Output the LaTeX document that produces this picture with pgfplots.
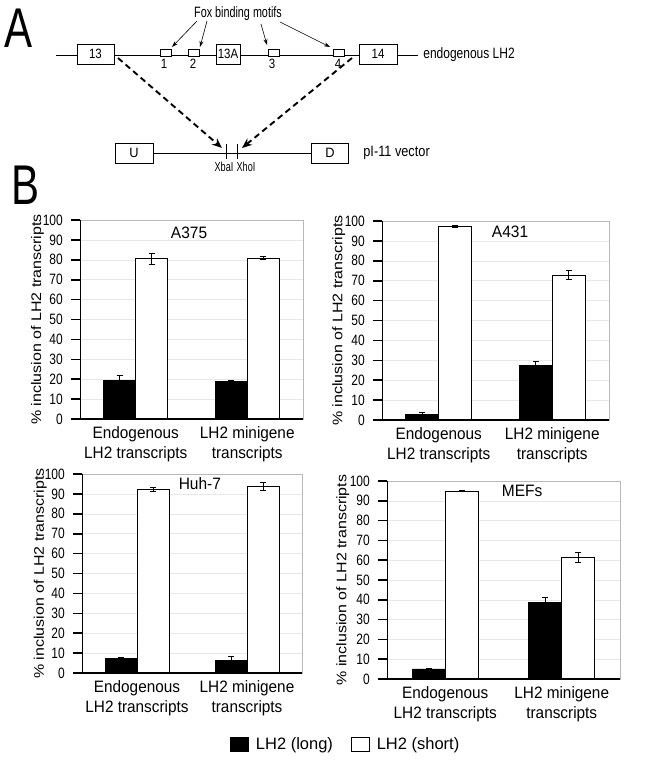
\documentclass[border=0pt]{standalone}
\usepackage{fontspec}
\setmainfont{Liberation Sans}
\usepackage{pgfplots}
\pgfplotsset{compat=1.18}
\usepackage{pgfplotstable}
\usetikzlibrary{arrows.meta}

\newcommand\chartfont{\fontsize{16.5}{20}\selectfont}
\newcommand\tickfont{\fontsize{15}{17}\selectfont}
\newcommand\diafont{\fontsize{15}{17}\selectfont}
\newcommand\boxfont{\fontsize{13.5}{15}\selectfont}

% A375
\pgfplotstableread{
x y e
0 19.2 2.7
1 18.7 0.8
}\AL
\pgfplotstableread{
x y e
0 80.6 2.7
1 80.9 0.7
}\AS
% A431
\pgfplotstableread{
x y e
0 2.9 1.0
1 27.6 1.7
}\BL
\pgfplotstableread{
x y e
0 97.4 0.6
1 72.9 2.3
}\BS
% Huh-7
\pgfplotstableread{
x y e
0 7.4 0.7
1 6.2 2.0
}\CL
\pgfplotstableread{
x y e
0 92.3 1.2
1 93.6 2.0
}\CS
% MEFs
\pgfplotstableread{
x y e
0 5.1 0.5
1 38.5 2.8
}\DL
\pgfplotstableread{
x y e
0 95.0 0.3
1 61.3 2.5
}\DS

\pgfplotsset{
  panel/.style={
    scale only axis, anchor=south west,
    ybar=0pt, bar width=#1,
    xmin=-0.5, xmax=1.5, ymin=0, ymax=100,
    xtick={0,1},
    xticklabels={{Endogenous\\LH2 transcripts},{LH2 minigene\\transcripts}},
    xticklabel style={align=center, font=\chartfont, xscale=0.93, yshift=5pt},
    ytick={0,10,...,100},
    ymajorgrids, grid style={gray!18, line width=0.6pt},
    axis line style={gray!55, line width=0.8pt},
    tick align=outside, major tick length=9pt,
    xtick style={draw=none},
    ytick style={black, line width=1.6pt},
    ytick pos=left, xtick pos=bottom,
    yticklabel style={font=\tickfont, xscale=0.8, inner sep=1pt, xshift=-9pt},
    ylabel={\% inclusion of LH2 transcripts},
    ylabel style={font=\fontsize{16}{18}\selectfont,
      at={(axis description cs:-0.19,0.5)}, anchor=center, yscale=0.87},
    /pgf/number format/assume math mode=true,
    error bars/y dir=both, error bars/y explicit,
    error bars/error bar style={black, line width=0.6pt},
    error bars/error mark options={rotate=90, black, mark size=3pt, line width=0.6pt},
  },
  longbar/.style={fill=black, draw=black, line width=0.8pt,
    legend image code/.code={\draw[fill=black, draw=black] (0pt,-7pt) rectangle (18pt,7pt);}},
  shortbar/.style={fill=white, draw=black, line width=0.8pt,
    legend image code/.code={\draw[fill=white, draw=black, line width=0.8pt] (0pt,-7pt) rectangle (18pt,7pt);}},
}

\begin{document}
\begin{tikzpicture}
\path (0pt,0pt) rectangle (658pt,-762pt);

% ---------- Panel A diagram ----------
\begin{scope}[x=1pt,y=-1pt, line width=0.9pt]
\node[font=\fontsize{56}{56}\selectfont, xscale=0.75, inner sep=0pt] at (19,28) {A};
\node[font=\fontsize{56}{56}\selectfont, xscale=0.75, inner sep=0pt] at (26,185) {B};
\draw (56,55.7) -- (418,55.7);
\draw[fill=white] (77,44) rectangle (114,64);
\draw[fill=white] (216,44) rectangle (240,64);
\draw[fill=white] (359,44) rectangle (397,64);
\draw[fill=white] (160,49) rectangle (171,56);
\draw[fill=white] (188,49) rectangle (199,56);
\draw[fill=white] (268,49) rectangle (279,56);
\draw[fill=white] (333,49) rectangle (344,56);
\node[font=\boxfont, xscale=0.85] at (95.5,54) {13};
\node[font=\boxfont, xscale=0.85] at (228,54) {13A};
\node[font=\boxfont, xscale=0.85] at (378,54) {14};
\node[font=\boxfont, xscale=0.85] at (164,64) {1};
\node[font=\boxfont, xscale=0.85] at (193,64) {2};
\node[font=\boxfont, xscale=0.85] at (272,64) {3};
\node[font=\boxfont, xscale=0.85] at (338,64) {4};
\node[font=\diafont, xscale=0.72] at (238,14) {Fox binding motifs};
\node[font=\diafont, xscale=0.8, anchor=west, inner sep=0pt] at (423,55) {endogenous LH2};
\begin{scope}[line width=0.6pt, -{Stealth[length=6pt,width=4pt]}]
\draw (197,21) -- (172,47);
\draw (207,21) -- (200,47);
\draw (261,24) -- (267,45);
\draw (280,22) -- (330,47);
\end{scope}
\begin{scope}[line width=1.9pt, dash pattern=on 6pt off 4pt, -{Stealth[length=10pt,width=8pt]}]
\draw (118,58) -- (222,148);
\draw (352,58) -- (242,148);
\end{scope}
\draw (153,153) -- (311,153);
\draw[fill=white] (115,143) rectangle (153,163);
\draw[fill=white] (311,143) rectangle (348,163);
\draw (226,144) -- (226,159);
\draw (237,144) -- (237,159);
\node[font=\boxfont, xscale=0.95] at (134,153) {U};
\node[font=\boxfont, xscale=0.95] at (330,153) {D};
\node[font=\fontsize{13}{15}\selectfont, xscale=0.7] at (224,166.5) {XbaI};
\node[font=\fontsize{13}{15}\selectfont, xscale=0.7] at (246,166.5) {XhoI};
\node[font=\diafont, xscale=0.85, anchor=west, inner sep=0pt] at (363,153) {pI-11 vector};
\end{scope}

% ---------- A375 ----------
\begin{axis}[panel=32pt, at={(80pt,-419pt)}, width=223pt, height=199pt]
\addplot[longbar] table[x=x,y=y,y error=e] {\AL};
\addplot[shortbar] table[x=x,y=y,y error=e] {\AS};
\draw[black, line width=1.6pt] (rel axis cs:0,1) -- (rel axis cs:0,0) -- (rel axis cs:1,0);
\node[font=\chartfont, xscale=0.94] at (rel axis cs:0.489,0.935) {A375};
\end{axis}

% ---------- A431 ----------
\begin{axis}[panel=33pt, at={(382pt,-420pt)}, width=227pt, height=199pt]
\addplot[longbar] table[x=x,y=y,y error=e] {\BL};
\addplot[shortbar] table[x=x,y=y,y error=e] {\BS};
\draw[black, line width=1.6pt] (rel axis cs:0,1) -- (rel axis cs:0,0) -- (rel axis cs:1,0);
\node[font=\chartfont, xscale=0.94] at (rel axis cs:0.564,0.945) {A431};
\end{axis}

% ---------- Huh-7 ----------
\begin{axis}[panel=32pt, at={(82pt,-673pt)}, width=220pt, height=199pt,
  legend columns=2,
  legend style={at={(axis description cs:0.659,-0.357)}, anchor=west, draw=none,
    fill=none, font=\chartfont,
    /tikz/every odd column/.append style={column sep=5pt},
    /tikz/every even column/.append style={column sep=16pt}},
]
\addplot[longbar] table[x=x,y=y,y error=e] {\CL};
\addlegendentry{LH2 (long)}
\addplot[shortbar] table[x=x,y=y,y error=e] {\CS};
\addlegendentry{LH2 (short)}
\draw[black, line width=1.6pt] (rel axis cs:0,1) -- (rel axis cs:0,0) -- (rel axis cs:1,0);
\node[font=\chartfont, xscale=0.94] at (rel axis cs:0.536,0.95) {Huh-7};
\end{axis}

% ---------- MEFs ----------
\begin{axis}[panel=33pt, at={(387pt,-679pt)}, width=233pt, height=198pt]
\addplot[longbar] table[x=x,y=y,y error=e] {\DL};
\addplot[shortbar] table[x=x,y=y,y error=e] {\DS};
\draw[black, line width=1.6pt] (rel axis cs:0,1) -- (rel axis cs:0,0) -- (rel axis cs:1,0);
\node[font=\chartfont, xscale=0.94] at (rel axis cs:0.58,0.95) {MEFs};
\end{axis}
\end{tikzpicture}
\end{document}
